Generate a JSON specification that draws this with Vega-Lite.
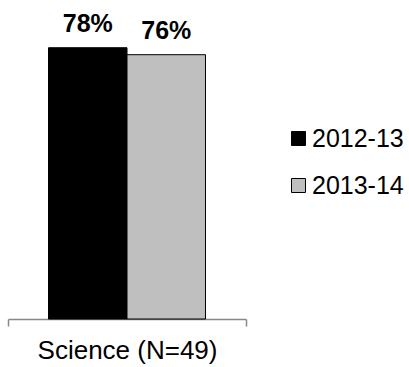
{
  "$schema": "https://vega.github.io/schema/vega-lite/v6.json",
  "width": 238,
  "height": 313,
  "autosize": "none",
  "padding": {"left": 8, "top": 6, "right": 163, "bottom": 48},
  "background": "white",
  "config": {"view": {"stroke": null}, "font": "Liberation Sans"},
  "data": {"values": [
    {"subject": "Science (N=49)", "year": "2012-13", "pct": 0.78, "label": "78%"},
    {"subject": "Science (N=49)", "year": "2013-14", "pct": 0.76, "label": "76%"}
  ]},
  "encoding": {
    "x": {"field": "subject", "type": "nominal", "scale": {"paddingInner": 0, "paddingOuter": 0},
      "axis": {"title": null, "labelAngle": 0, "labelFontSize": 26, "labelColor": "black", "domainColor": "#888888", "tickColor": "#888888", "tickBand": "extent", "tickSize": 7, "labelPadding": 11, "domainWidth": 1.5, "tickWidth": 1.5}},
    "xOffset": {"field": "year", "type": "nominal", "scale": {"paddingInner": 0, "paddingOuter": 0.516}},
    "y": {"field": "pct", "type": "quantitative", "scale": {"domain": [0, 0.9]}, "axis": null}
  },
  "layer": [
    {
      "mark": {"type": "bar", "stroke": "black", "strokeWidth": 1},
      "encoding": {
        "color": {"field": "year", "type": "nominal", "scale": {"domain": ["2012-13", "2013-14"], "range": ["#000000", "#bfbfbf"]},
          "legend": {"title": null, "orient": "none", "legendX": 278, "legendY": 120, "labelFontSize": 25, "labelColor": "black", "symbolType": "square", "symbolSize": 196, "symbolStrokeColor": "black", "symbolStrokeWidth": 1, "rowPadding": 21, "labelOffset": 1}}
      }
    },
    {
      "mark": {"type": "text", "fontSize": 25, "fontWeight": "bold", "dy": -16, "baseline": "alphabetic", "color": "black"},
      "encoding": {"text": {"field": "label"}}
    }
  ]
}
